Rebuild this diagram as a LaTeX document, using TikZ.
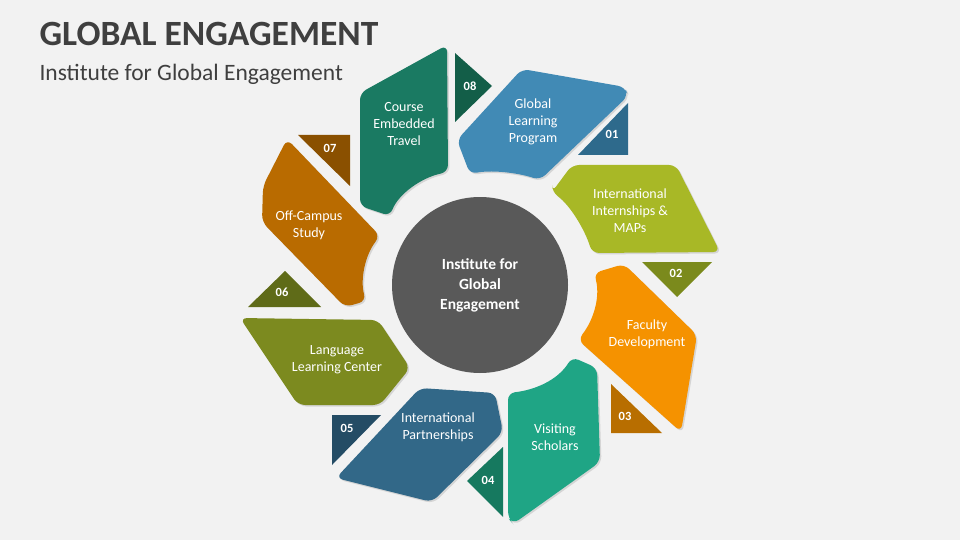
\documentclass[tikz,border=0pt]{standalone}
\usepackage{fontspec}
\setmainfont{Carlito}
\usetikzlibrary{shadows}
\definecolor{bg}{HTML}{F2F2F2}
\definecolor{ctitle}{HTML}{3F3F3F}
\definecolor{chub}{HTML}{595959}
\definecolor{cA}{HTML}{418AB5}\definecolor{tA}{HTML}{2E6A8C}
\definecolor{cB}{HTML}{A8B826}\definecolor{tB}{HTML}{7B8A1C}
\definecolor{cC}{HTML}{F59200}\definecolor{tC}{HTML}{B86E00}
\definecolor{cD}{HTML}{1FA585}\definecolor{tD}{HTML}{16795F}
\definecolor{cE}{HTML}{326888}\definecolor{tE}{HTML}{244C65}
\definecolor{cF}{HTML}{7C8A1F}\definecolor{tF}{HTML}{5F6B18}
\definecolor{cG}{HTML}{B96B00}\definecolor{tG}{HTML}{8A5000}
\definecolor{cH}{HTML}{1A7A62}\definecolor{tH}{HTML}{135E48}
\tikzset{
  segment/.style={fill=#1, rounded corners=7pt, drop shadow={opacity=0.25, shadow xshift=1.5pt, shadow yshift=-1.5pt}},
  tab/.style={fill=#1},
  seglabel/.style={text=white, align=center, font=\fontsize{14}{17}\selectfont},
  numlabel/.style={text=white, font=\bfseries\fontsize{12.5}{14}\selectfont},
}
\begin{document}
\begin{tikzpicture}[x=1pt, y=-1pt]
    \fill[bg] (0,0) rectangle (960,540);
    \useasboundingbox (0,0) rectangle (960,540);

    \node[anchor=west, text=ctitle, font=\bfseries\fontsize{35.5}{40}\selectfont] (title) at (36,34) {GLOBAL ENGAGEMENT};
    \node[anchor=west, text=ctitle, font=\fontsize{23.5}{26}\selectfont] (subtitle) at (36,74) {Institute for Global Engagement};

    % tabs
    \fill[tab=tH] (455,53) -- (492,86) -- (455,122) -- cycle;
    \fill[tab=tA] (628,103) -- (628,155) -- (578,155) -- cycle;
    \fill[tab=tB] (642,262) -- (712,262) -- (677,297) -- cycle;
    \fill[tab=tC] (611,384) -- (662,433) -- (611,433) -- cycle;
    \fill[tab=tD] (503,447) -- (503,517) -- (467,481) -- cycle;
    \fill[tab=tE] (332,415) -- (381,415) -- (332,465) -- cycle;
    \fill[tab=tF] (285,271) -- (321,307) -- (248,307) -- cycle;
    \fill[tab=tG] (298,135) -- (350,135) -- (350,186) -- cycle;

    % segments
    \fill[segment=cA] (457,140) -- (522,69) -- (625,87) -- (628,96) -- (540,180)
        .. controls (515,172) and (490,170) .. (470,174) -- cycle;
    \fill[segment=cB] (552,192) -- (572,165) -- (676,165) -- (720,252) -- (592,253)
        .. controls (585,230) and (570,205) .. cycle;
    \fill[segment=cC] (578,340) .. controls (595,318) and (600,295) .. (594,273)
        -- (624,264) -- (697,335) -- (681,432) -- cycle;
    \fill[segment=cD] (508,393) .. controls (535,390) and (558,380) .. (572,357)
        -- (597,368) -- (600,462) -- (513,524) -- (508,518) -- cycle;
    \fill[segment=cE] (336,478) -- (420,388) -- (495,393) -- (503,432)
        -- (432,502) -- cycle;
    \fill[segment=cF] (240,318) -- (378,320) -- (410,368) -- (380,405)
        -- (298,405) -- cycle;
    \fill[segment=cG] (263,186) -- (287,139) -- (380,236)
        .. controls (365,255) and (360,280) .. (366,301) -- (345,307) -- (262,222) -- cycle;
    \fill[segment=cH] (360,93) -- (447,45) -- (448,172)
        .. controls (420,178) and (398,195) .. (390,216) -- (360,206) -- cycle;

    % hub
    \fill[chub] (480,285) circle[radius=88];
    \node[text=white, align=center, font=\bfseries\fontsize{15.5}{20}\selectfont] (hub) at (480,285) {Institute for\\Global\\Engagement};

    % labels
    \node[seglabel] (learning) at (533,122) {Global\\Learning\\Program};
    \node[seglabel] (intern) at (630,211) {International\\Internships \&\\MAPs};
    \node[seglabel] (faculty) at (647,334) {Faculty\\Development};
    \node[seglabel] (visiting) at (555,437) {Visiting\\Scholars};
    \node[seglabel] (partner) at (438,427) {International\\Partnerships};
    \node[seglabel] (language) at (337,360) {Language\\Learning Center};
    \node[seglabel] (offcampus) at (309,225) {Off-Campus\\Study};
    \node[seglabel] (travel) at (404,124) {Course\\Embedded\\Travel};

    \node[numlabel] (n1) at (612,134) {01};
    \node[numlabel] (n2) at (676,273) {02};
    \node[numlabel] (n3) at (625,416) {03};
    \node[numlabel] (n4) at (488,480) {04};
    \node[numlabel] (n5) at (347,428) {05};
    \node[numlabel] (n6) at (282,292) {06};
    \node[numlabel] (n7) at (330,148) {07};
    \node[numlabel] (n8) at (470,86) {08};
\end{tikzpicture}
\end{document}
